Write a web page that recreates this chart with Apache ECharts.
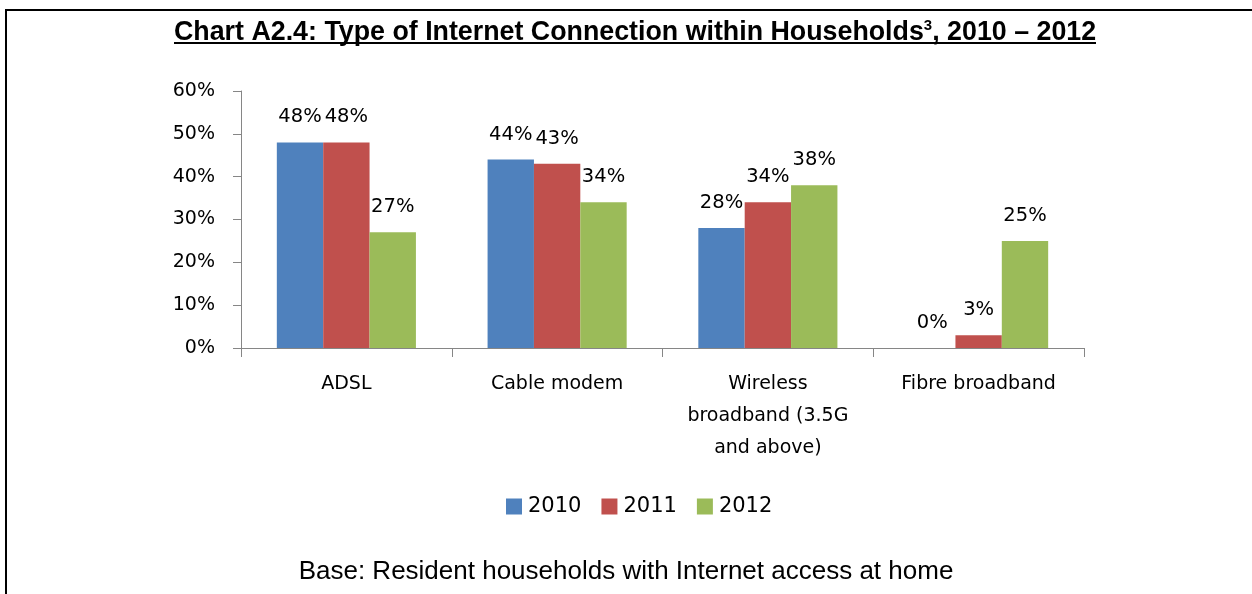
<!DOCTYPE html>
<html>
<head>
<meta charset="utf-8">
<script src="https://cdn.jsdelivr.net/npm/echarts@6/dist/echarts.min.js"></script>
<style>
  html, body { margin: 0; padding: 0; background: #fff; }
  #chart { width: 1252px; height: 594px; }
</style>
</head>
<body>
<div id="chart"></div>
<script>
// Connection types shown along the x axis
const categories = ['ADSL', 'Cable modem', 'Wireless\nbroadband (3.5G\nand above)', 'Fibre broadband'];
// Share of households (%) per year
const years = ['2010', '2011', '2012'];
const values2010 = [48, 44, 28, 0];
const values2011 = [48, 43, 34, 3];
const values2012 = [27, 34, 38, 25];
const yTicks = { min: 0, max: 60, interval: 10 };

const colors = ['#4F81BD', '#C0504D', '#9BBB59'];
const bodyFont = 'DejaVu Sans';

const chart = echarts.init(document.getElementById('chart'), null, { renderer: 'canvas' });

function barSeries(name, data, color) {
  return {
    name: name,
    type: 'bar',
    data: data,
    barGap: '0%',
    barCategoryGap: '34%',
    itemStyle: { color: color },
    label: {
      show: true,
      position: 'top',
      distance: 15,
      formatter: '{c}%',
      color: '#000',
      fontFamily: bodyFont,
      fontSize: 19.5
    }
  };
}

chart.setOption({
  backgroundColor: '#fff',
  animation: false,
  title: {
    text: '{t|Chart A2.4: Type of Internet Connection within Households}{s|3}{t|, 2010 – 2012}',
    left: 169,
    top: 13,
    textStyle: {
      rich: {
        t: { fontFamily: 'Liberation Sans', fontWeight: 'bold', fontSize: 26.8, color: '#000' },
        s: { fontFamily: 'Liberation Sans', fontWeight: 'bold', fontSize: 15, color: '#000', padding: [0, 0, 14, 0] }
      }
    }
  },
  graphic: [
    {
      type: 'rect',
      silent: true,
      shape: { x: 6, y: 10, width: 1300, height: 700 },
      style: { fill: 'none', stroke: '#000', lineWidth: 2 }
    },
    {
      type: 'line',
      silent: true,
      shape: { x1: 174, y1: 43, x2: 1096, y2: 43 },
      style: { stroke: '#000', lineWidth: 2 }
    },
    {
      type: 'text',
      silent: true,
      left: 'center',
      top: 559,
      style: {
        text: 'Base: Resident households with Internet access at home',
        fontFamily: 'Liberation Sans',
        fontSize: 26,
        fill: '#000'
      }
    }
  ],
  legend: {
    data: years,
    left: 501,
    top: 491,
    itemWidth: 16,
    itemHeight: 16,
    itemGap: 20,
    icon: 'rect',
    textStyle: { fontFamily: bodyFont, fontSize: 21, color: '#000', padding: [0, 0, 0, 1] }
  },
  grid: { left: 241, right: 168, top: 91, bottom: 246, containLabel: false },
  xAxis: {
    type: 'category',
    data: categories,
    axisLine: { lineStyle: { color: '#868686', width: 1 } },
    axisTick: { show: true, length: 9, lineStyle: { color: '#868686' } },
    axisLabel: {
      color: '#000',
      fontFamily: bodyFont,
      fontSize: 19,
      lineHeight: 32,
      margin: 20,
      interval: 0
    }
  },
  yAxis: {
    type: 'value',
    min: yTicks.min,
    max: yTicks.max,
    interval: yTicks.interval,
    splitLine: { show: false },
    axisLine: { show: true, lineStyle: { color: '#868686', width: 1 } },
    axisTick: { show: true, length: 8, lineStyle: { color: '#868686' } },
    axisLabel: {
      color: '#000',
      fontFamily: bodyFont,
      fontSize: 19,
      margin: 26,
      formatter: '{value}%'
    }
  },
  series: [
    barSeries(years[0], values2010, colors[0]),
    barSeries(years[1], values2011, colors[1]),
    barSeries(years[2], values2012, colors[2])
  ]
});
</script>
</body>
</html>
